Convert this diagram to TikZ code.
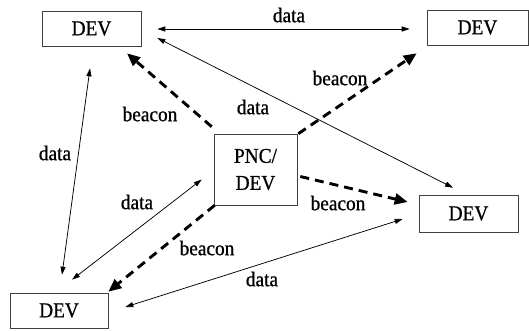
\documentclass[tikz,border=0pt]{standalone}
\usepackage{fontspec}
\setmainfont{Liberation Serif}[FakeStretch=0.92,FakeBold=0.8]
\usetikzlibrary{arrows.meta}

\begin{document}
\begin{tikzpicture}[x=1pt,y=-1pt,
  font=\fontsize{21}{27}\selectfont,
  dev/.style={draw=black!75,line width=0.6pt,minimum width=99pt,minimum height=35pt,inner sep=0pt},
  datalink/.style={{Triangle[length=8pt,width=5pt]}-{Triangle[length=8pt,width=5pt]},line width=0.75pt},
  beaconlink/.style={-{Triangle[length=13pt,width=11pt]},line width=2.9pt,dash pattern=on 9pt off 6pt}]

\useasboundingbox (0,0) rectangle (529,330);

% devices
\node[dev] (tl) at (91.5,28.5) {DEV};
\node[dev,minimum width=101pt] (tr) at (477.5,27.5) {DEV};
\node[dev,minimum width=83pt,minimum height=71pt,align=center] (pnc) at (255.5,169.5) {PNC/\\DEV};
\node[dev,minimum height=37pt] (rm) at (468.5,213.5) {DEV};
\node[dev,minimum width=98pt] (bl) at (59,310.5) {DEV};

% data links between devices
\draw[datalink] ([shift={(16,0.5)}]tl.east) -- ([shift={(-17,1.5)}]tr.west);
\draw[datalink] ([shift={(16,9.5)}]tl.east) -- ([shift={(-15.5,-7)}]rm.north);
\draw[datalink] ([shift={(-1.5,22)}]tl.south) -- ([shift={(3,-18)}]bl.north);
\draw[datalink] ([shift={(13,-13)}]bl.north) -- ([shift={(-12,10)}]pnc.west);
\draw[datalink] ([shift={(17,-3.5)}]bl.east) -- ([shift={(-16,5.5)}]rm.west);

\node (d1) at (289,15) {data};
\node (d2) at (253,107) {data};
\node (d3) at (55,153) {data};
\node (d4) at (137,202) {data};
\node (d5) at (262,279) {data};

% beacons sent by the PNC
\draw[beaconlink] ([shift={(-2,-7)}]pnc.north west) -- ([shift={(35.5,7)}]tl.south);
\draw[beaconlink] ([shift={(1,0)}]pnc.north east) -- ([shift={(-10,8)}]tr.south west);
\draw[beaconlink] ([shift={(3,7)}]pnc.east) -- ([shift={(-11,-11.5)}]rm.west);
\draw[beaconlink] ([shift={(1,0)}]pnc.south west) -- ([shift={(0,-1)}]bl.north east);

\node (b1) at (150,114) {beacon};
\node (b2) at (340,78) {beacon};
\node (b3) at (338,203) {beacon};
\node (b4) at (207,248) {beacon};

\end{tikzpicture}
\end{document}
